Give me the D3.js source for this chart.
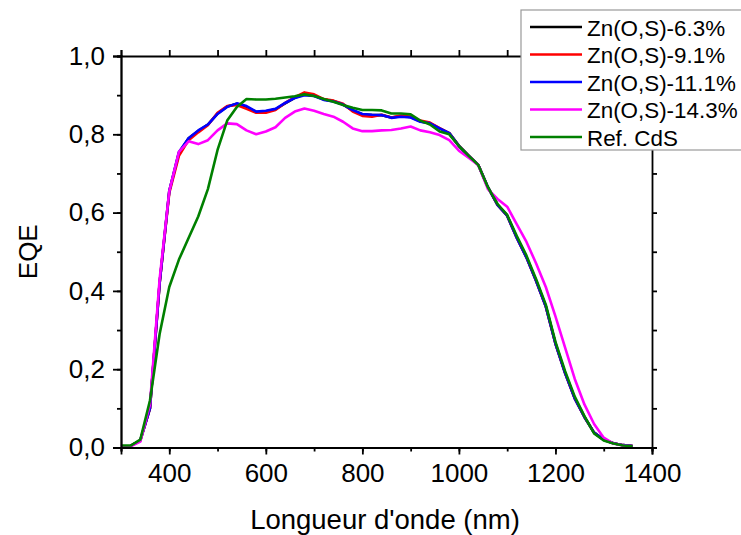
<!DOCTYPE html>
<html><head><meta charset="utf-8">
<script src="https://cdn.jsdelivr.net/npm/d3@7"></script>
<style>body{margin:0;background:#fff;} svg{display:block;} text{font-family:Arial,"Liberation Sans",sans-serif;}</style>
</head><body>
<script>
const wavelengths = [300,320,340,360,380,400,420,440,460,480,500,520,540,560,580,600,620,640,660,680,700,720,740,760,780,800,820,840,860,880,900,920,940,960,980,1000,1020,1040,1060,1080,1100,1120,1140,1160,1180,1200,1220,1240,1260,1280,1300,1320,1340,1360];
const eqe63 = [0.003,0.004,0.018,0.10,0.42,0.655,0.752,0.79,0.808,0.825,0.853,0.871,0.878,0.87,0.857,0.858,0.864,0.879,0.893,0.902,0.899,0.889,0.885,0.876,0.861,0.851,0.849,0.849,0.843,0.846,0.844,0.833,0.828,0.815,0.803,0.771,0.746,0.722,0.665,0.62,0.592,0.536,0.486,0.426,0.361,0.266,0.19,0.126,0.078,0.038,0.02,0.011,0.006,0.004];
const eqe91 = [0.003,0.004,0.018,0.10,0.42,0.65,0.745,0.785,0.805,0.823,0.855,0.872,0.875,0.865,0.855,0.855,0.862,0.88,0.895,0.907,0.902,0.89,0.886,0.878,0.858,0.847,0.845,0.85,0.843,0.848,0.845,0.835,0.83,0.816,0.803,0.77,0.745,0.722,0.665,0.62,0.592,0.535,0.485,0.425,0.36,0.265,0.19,0.125,0.078,0.038,0.02,0.011,0.006,0.004];
const eqe111 = [0.003,0.004,0.018,0.10,0.42,0.655,0.755,0.79,0.81,0.825,0.852,0.87,0.879,0.872,0.858,0.86,0.865,0.88,0.893,0.90,0.898,0.888,0.884,0.876,0.862,0.852,0.85,0.849,0.842,0.845,0.843,0.832,0.828,0.815,0.803,0.77,0.745,0.722,0.665,0.62,0.592,0.535,0.485,0.425,0.36,0.265,0.19,0.125,0.078,0.038,0.02,0.011,0.006,0.004];
const eqe143 = [0.003,0.003,0.015,0.11,0.43,0.655,0.755,0.782,0.775,0.785,0.81,0.828,0.826,0.81,0.80,0.807,0.818,0.842,0.858,0.866,0.86,0.852,0.845,0.832,0.815,0.808,0.808,0.81,0.811,0.815,0.82,0.81,0.805,0.798,0.785,0.758,0.74,0.722,0.66,0.635,0.615,0.57,0.525,0.47,0.41,0.335,0.255,0.175,0.11,0.06,0.025,0.01,0.005,0.003];
const eqeCdS = [0.005,0.005,0.02,0.12,0.29,0.41,0.48,0.535,0.59,0.66,0.76,0.835,0.87,0.89,0.889,0.889,0.891,0.894,0.897,0.902,0.898,0.89,0.883,0.875,0.868,0.862,0.862,0.861,0.853,0.853,0.851,0.835,0.825,0.807,0.80,0.77,0.745,0.722,0.665,0.622,0.594,0.54,0.49,0.43,0.365,0.27,0.195,0.13,0.08,0.036,0.018,0.01,0.005,0.003];
const seriesNames = ["Zn(O,S)-6.3%","Zn(O,S)-9.1%","Zn(O,S)-11.1%","Zn(O,S)-14.3%","Ref. CdS"];
const seriesColors = ["#000000","#ff0000","#0000ff","#ff00ff","#008000"];
const seriesValues = [eqe63, eqe91, eqe111, eqe143, eqeCdS];
const xTicks = [400,600,800,1000,1200,1400];
const yTicks = [0,0.2,0.4,0.6,0.8,1.0];

(function(){
const W=741,H=535;
const m={left:121,right:652,top:56,bottom:447.5};
const svg=d3.select("body").append("svg").attr("width",W).attr("height",H);
const x=d3.scaleLinear().domain([300,1400]).range([m.left,m.right]);
const y=d3.scaleLinear().domain([0,1]).range([m.bottom,m.top]);

const fmtY=d=>d3.format(".1f")(d).replace(".",",");
const xMinor=d3.range(300,1401,100), yMinor=d3.range(0,1.001,0.1);

const line=d3.line().x((d,i)=>x(wavelengths[i])).y(d=>y(d));
seriesValues.forEach((vals,k)=>{
  svg.append("path").datum(vals).attr("d",line).attr("fill","none")
    .attr("stroke",seriesColors[k]).attr("stroke-width",2.6).attr("stroke-linejoin","round");
});

const axB=svg.append("g").attr("transform",`translate(0,${m.bottom})`)
  .call(d3.axisBottom(x).tickValues(xMinor).tickSize(4).tickFormat(""));
const axBM=svg.append("g").attr("transform",`translate(0,${m.bottom})`)
  .call(d3.axisBottom(x).tickValues(xTicks).tickSize(7).tickPadding(9).tickFormat(d3.format("d")));
const axT=svg.append("g").attr("transform",`translate(0,${m.top})`)
  .call(d3.axisTop(x).tickValues(xMinor).tickSize(6).tickFormat(""));
const axL=svg.append("g").attr("transform",`translate(${m.left},0)`)
  .call(d3.axisLeft(y).tickValues(yMinor).tickSize(4).tickFormat(""));
const axLM=svg.append("g").attr("transform",`translate(${m.left},0)`)
  .call(d3.axisLeft(y).tickValues(yTicks).tickSize(8).tickPadding(8).tickFormat(fmtY));
const axR=svg.append("g").attr("transform",`translate(${m.right},0)`)
  .call(d3.axisRight(y).tickValues(yMinor).tickSize(5).tickFormat(""));
[axB,axBM,axT,axL,axLM,axR].forEach(a=>{
  a.select(".domain").attr("stroke","#000").attr("stroke-width",1.8);
  a.selectAll(".tick line").attr("stroke","#000").attr("stroke-width",1.8);
  a.selectAll("text").attr("font-size",26).attr("fill","#000").attr("font-family","Arial,'Liberation Sans',sans-serif");
});

svg.append("text").attr("x",385).attr("y",529).attr("text-anchor","middle")
  .attr("font-size",27.5).text("Longueur d'onde (nm)");
svg.append("text").attr("transform",`translate(37,${(m.top+m.bottom)/2}) rotate(-90)`).attr("text-anchor","middle")
  .attr("font-size",26).text("EQE");

const lg=svg.append("g");
lg.append("rect").attr("x",521).attr("y",10).attr("width",240).attr("height",140)
  .attr("fill","#fff").attr("stroke","#999").attr("stroke-width",1.2);
seriesNames.forEach((n,k)=>{
  const yy=27+k*27.5;
  lg.append("line").attr("x1",530).attr("x2",582).attr("y1",yy).attr("y2",yy)
    .attr("stroke",seriesColors[k]).attr("stroke-width",2.6);
  lg.append("text").attr("x",587).attr("y",yy+8.5).attr("font-size",22.4).text(n);
});
})();
</script>
</body></html>
